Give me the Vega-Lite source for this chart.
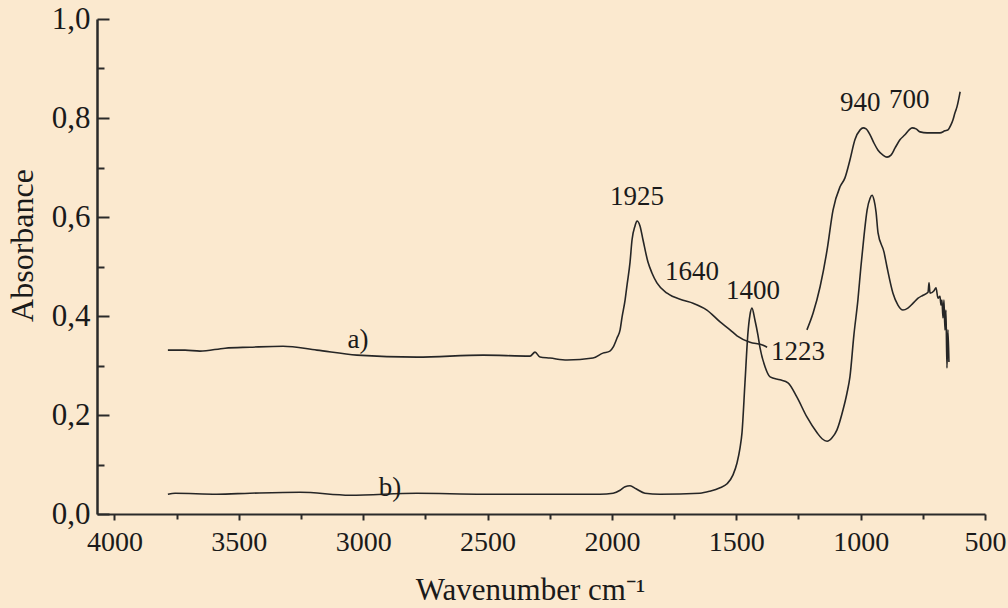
{
  "$schema": "https://vega.github.io/schema/vega-lite/v6.json",
  "width": 888,
  "height": 495,
  "autosize": "none",
  "padding": {"left": 97, "top": 19, "right": 23, "bottom": 94},
  "background": "#fbe9cf",
  "config": {"view": {"stroke": null}, "font": "Liberation Serif"},
  "datasets": {
    "spectra": [
      {"seg": "a1", "wn": 3785, "abs": 0.331},
      {"seg": "a1", "wn": 3716, "abs": 0.331},
      {"seg": "a1", "wn": 3656, "abs": 0.329},
      {"seg": "a1", "wn": 3555, "abs": 0.335},
      {"seg": "a1", "wn": 3455, "abs": 0.337},
      {"seg": "a1", "wn": 3322, "abs": 0.339},
      {"seg": "a1", "wn": 3186, "abs": 0.331},
      {"seg": "a1", "wn": 3025, "abs": 0.321},
      {"seg": "a1", "wn": 2784, "abs": 0.317},
      {"seg": "a1", "wn": 2518, "abs": 0.321},
      {"seg": "a1", "wn": 2329, "abs": 0.319},
      {"seg": "a1", "wn": 2309, "abs": 0.327},
      {"seg": "a1", "wn": 2289, "abs": 0.317},
      {"seg": "a1", "wn": 2249, "abs": 0.315},
      {"seg": "a1", "wn": 2180, "abs": 0.311},
      {"seg": "a1", "wn": 2076, "abs": 0.315},
      {"seg": "a1", "wn": 2036, "abs": 0.325},
      {"seg": "a1", "wn": 2008, "abs": 0.329},
      {"seg": "a1", "wn": 1995, "abs": 0.337},
      {"seg": "a1", "wn": 1979, "abs": 0.356},
      {"seg": "a1", "wn": 1967, "abs": 0.372},
      {"seg": "a1", "wn": 1959, "abs": 0.398},
      {"seg": "a1", "wn": 1947, "abs": 0.432},
      {"seg": "a1", "wn": 1939, "abs": 0.463},
      {"seg": "a1", "wn": 1927, "abs": 0.509},
      {"seg": "a1", "wn": 1919, "abs": 0.554},
      {"seg": "a1", "wn": 1907, "abs": 0.582},
      {"seg": "a1", "wn": 1899, "abs": 0.592},
      {"seg": "a1", "wn": 1887, "abs": 0.582},
      {"seg": "a1", "wn": 1875, "abs": 0.554},
      {"seg": "a1", "wn": 1855, "abs": 0.509},
      {"seg": "a1", "wn": 1839, "abs": 0.487},
      {"seg": "a1", "wn": 1819, "abs": 0.467},
      {"seg": "a1", "wn": 1778, "abs": 0.446},
      {"seg": "a1", "wn": 1714, "abs": 0.432},
      {"seg": "a1", "wn": 1674, "abs": 0.426},
      {"seg": "a1", "wn": 1618, "abs": 0.412},
      {"seg": "a1", "wn": 1565, "abs": 0.388},
      {"seg": "a1", "wn": 1525, "abs": 0.372},
      {"seg": "a1", "wn": 1497, "abs": 0.360},
      {"seg": "a1", "wn": 1445, "abs": 0.347},
      {"seg": "a1", "wn": 1392, "abs": 0.341},
      {"seg": "a1", "wn": 1376, "abs": 0.337},
      {"seg": "a2", "wn": 1216, "abs": 0.372},
      {"seg": "a2", "wn": 1191, "abs": 0.406},
      {"seg": "a2", "wn": 1163, "abs": 0.459},
      {"seg": "a2", "wn": 1135, "abs": 0.533},
      {"seg": "a2", "wn": 1111, "abs": 0.614},
      {"seg": "a2", "wn": 1083, "abs": 0.661},
      {"seg": "a2", "wn": 1063, "abs": 0.679},
      {"seg": "a2", "wn": 1043, "abs": 0.715},
      {"seg": "a2", "wn": 1023, "abs": 0.756},
      {"seg": "a2", "wn": 1002, "abs": 0.776},
      {"seg": "a2", "wn": 990, "abs": 0.780},
      {"seg": "a2", "wn": 978, "abs": 0.778},
      {"seg": "a2", "wn": 962, "abs": 0.766},
      {"seg": "a2", "wn": 946, "abs": 0.749},
      {"seg": "a2", "wn": 930, "abs": 0.735},
      {"seg": "a2", "wn": 910, "abs": 0.725},
      {"seg": "a2", "wn": 894, "abs": 0.721},
      {"seg": "a2", "wn": 878, "abs": 0.725},
      {"seg": "a2", "wn": 862, "abs": 0.739},
      {"seg": "a2", "wn": 842, "abs": 0.756},
      {"seg": "a2", "wn": 822, "abs": 0.766},
      {"seg": "a2", "wn": 805, "abs": 0.776},
      {"seg": "a2", "wn": 793, "abs": 0.780},
      {"seg": "a2", "wn": 777, "abs": 0.778},
      {"seg": "a2", "wn": 761, "abs": 0.772},
      {"seg": "a2", "wn": 733, "abs": 0.770},
      {"seg": "a2", "wn": 701, "abs": 0.770},
      {"seg": "a2", "wn": 681, "abs": 0.770},
      {"seg": "a2", "wn": 661, "abs": 0.774},
      {"seg": "a2", "wn": 649, "abs": 0.776},
      {"seg": "a2", "wn": 637, "abs": 0.786},
      {"seg": "a2", "wn": 629, "abs": 0.796},
      {"seg": "a2", "wn": 621, "abs": 0.810},
      {"seg": "a2", "wn": 613, "abs": 0.822},
      {"seg": "a2", "wn": 600, "abs": 0.853},
      {"seg": "b", "wn": 3785, "abs": 0.040},
      {"seg": "b", "wn": 3756, "abs": 0.042},
      {"seg": "b", "wn": 3588, "abs": 0.040},
      {"seg": "b", "wn": 3455, "abs": 0.042},
      {"seg": "b", "wn": 3254, "abs": 0.044},
      {"seg": "b", "wn": 3053, "abs": 0.038},
      {"seg": "b", "wn": 2784, "abs": 0.042},
      {"seg": "b", "wn": 2518, "abs": 0.040},
      {"seg": "b", "wn": 2249, "abs": 0.040},
      {"seg": "b", "wn": 2048, "abs": 0.040},
      {"seg": "b", "wn": 1995, "abs": 0.042},
      {"seg": "b", "wn": 1967, "abs": 0.048},
      {"seg": "b", "wn": 1947, "abs": 0.055},
      {"seg": "b", "wn": 1927, "abs": 0.057},
      {"seg": "b", "wn": 1903, "abs": 0.051},
      {"seg": "b", "wn": 1867, "abs": 0.042},
      {"seg": "b", "wn": 1807, "abs": 0.040},
      {"seg": "b", "wn": 1646, "abs": 0.042},
      {"seg": "b", "wn": 1606, "abs": 0.046},
      {"seg": "b", "wn": 1565, "abs": 0.053},
      {"seg": "b", "wn": 1537, "abs": 0.061},
      {"seg": "b", "wn": 1513, "abs": 0.079},
      {"seg": "b", "wn": 1497, "abs": 0.103},
      {"seg": "b", "wn": 1485, "abs": 0.133},
      {"seg": "b", "wn": 1477, "abs": 0.164},
      {"seg": "b", "wn": 1465, "abs": 0.265},
      {"seg": "b", "wn": 1453, "abs": 0.366},
      {"seg": "b", "wn": 1445, "abs": 0.402},
      {"seg": "b", "wn": 1437, "abs": 0.416},
      {"seg": "b", "wn": 1425, "abs": 0.392},
      {"seg": "b", "wn": 1413, "abs": 0.362},
      {"seg": "b", "wn": 1405, "abs": 0.337},
      {"seg": "b", "wn": 1384, "abs": 0.297},
      {"seg": "b", "wn": 1364, "abs": 0.277},
      {"seg": "b", "wn": 1324, "abs": 0.271},
      {"seg": "b", "wn": 1292, "abs": 0.265},
      {"seg": "b", "wn": 1256, "abs": 0.236},
      {"seg": "b", "wn": 1216, "abs": 0.196},
      {"seg": "b", "wn": 1175, "abs": 0.164},
      {"seg": "b", "wn": 1155, "abs": 0.152},
      {"seg": "b", "wn": 1135, "abs": 0.147},
      {"seg": "b", "wn": 1115, "abs": 0.154},
      {"seg": "b", "wn": 1095, "abs": 0.170},
      {"seg": "b", "wn": 1071, "abs": 0.210},
      {"seg": "b", "wn": 1055, "abs": 0.244},
      {"seg": "b", "wn": 1043, "abs": 0.277},
      {"seg": "b", "wn": 1027, "abs": 0.362},
      {"seg": "b", "wn": 1011, "abs": 0.432},
      {"seg": "b", "wn": 999, "abs": 0.499},
      {"seg": "b", "wn": 986, "abs": 0.564},
      {"seg": "b", "wn": 974, "abs": 0.614},
      {"seg": "b", "wn": 962, "abs": 0.638},
      {"seg": "b", "wn": 954, "abs": 0.644},
      {"seg": "b", "wn": 946, "abs": 0.634},
      {"seg": "b", "wn": 938, "abs": 0.610},
      {"seg": "b", "wn": 930, "abs": 0.568},
      {"seg": "b", "wn": 906, "abs": 0.529},
      {"seg": "b", "wn": 894, "abs": 0.499},
      {"seg": "b", "wn": 870, "abs": 0.446},
      {"seg": "b", "wn": 850, "abs": 0.422},
      {"seg": "b", "wn": 830, "abs": 0.412},
      {"seg": "b", "wn": 810, "abs": 0.416},
      {"seg": "b", "wn": 789, "abs": 0.426},
      {"seg": "b", "wn": 769, "abs": 0.436},
      {"seg": "b", "wn": 749, "abs": 0.442},
      {"seg": "b", "wn": 729, "abs": 0.448},
      {"seg": "b", "wn": 725, "abs": 0.467},
      {"seg": "b", "wn": 721, "abs": 0.446},
      {"seg": "b", "wn": 705, "abs": 0.451},
      {"seg": "b", "wn": 697, "abs": 0.457},
      {"seg": "b", "wn": 689, "abs": 0.436},
      {"seg": "b", "wn": 681, "abs": 0.440},
      {"seg": "b", "wn": 677, "abs": 0.422},
      {"seg": "b", "wn": 673, "abs": 0.432},
      {"seg": "b", "wn": 669, "abs": 0.396},
      {"seg": "b", "wn": 665, "abs": 0.432},
      {"seg": "b", "wn": 661, "abs": 0.372},
      {"seg": "b", "wn": 657, "abs": 0.412},
      {"seg": "b", "wn": 653, "abs": 0.295},
      {"seg": "b", "wn": 649, "abs": 0.372},
      {"seg": "b", "wn": 645, "abs": 0.307}
    ],
    "labels": [
      {"text": "1925", "wn": 1899, "abs": 0.640},
      {"text": "1640", "wn": 1678, "abs": 0.489},
      {"text": "1400", "wn": 1433, "abs": 0.451},
      {"text": "1223", "wn": 1252, "abs": 0.327},
      {"text": "940", "wn": 1002, "abs": 0.830},
      {"text": "700", "wn": 805, "abs": 0.836},
      {"text": "a)", "wn": 3021, "abs": 0.352},
      {"text": "b)", "wn": 2892, "abs": 0.053}
    ]
  },
  "layer": [
    {
      "data": {"name": "spectra"},
      "mark": {"type": "line", "color": "#262626", "strokeWidth": 1.6, "interpolate": "monotone", "clip": false},
      "encoding": {
        "x": {
          "field": "wn", "type": "quantitative",
          "scale": {"domain": [500, 4070], "reverse": true, "nice": false, "zero": false},
          "axis": {
            "orient": "bottom",
            "values": [4000, 3500, 3000, 2500, 2000, 1500, 1000, 500],
            "format": "d",
            "grid": false,
            "domainColor": "#2a2a2a", "domainWidth": 2,
            "tickColor": "#2a2a2a", "tickWidth": 2, "tickSize": 6,
            "labelFont": "Liberation Serif", "labelFontSize": 28, "labelColor": "#1a1a1a",
            "labelPadding": 8, "labelFlush": false, "labelOverlap": false,
            "title": "Wavenumber cm⁻¹",
            "titleFont": "Liberation Serif", "titleFontSize": 31, "titleFontWeight": "normal", "titleColor": "#1a1a1a",
            "titleX": 433, "titleY": 76, "titleBaseline": "middle", "titleAlign": "center"
          }
        },
        "y": {
          "field": "abs", "type": "quantitative",
          "scale": {"domain": [0, 1], "nice": false},
          "axis": {
            "orient": "left",
            "values": [0, 0.2, 0.4, 0.6, 0.8, 1.0],
            "labelExpr": "replace(format(datum.value, '.1f'), '.', ',')",
            "grid": false,
            "domainColor": "#2a2a2a", "domainWidth": 2.5,
            "tickColor": "#2a2a2a", "tickWidth": 2, "tickSize": -12,
            "labelFont": "Liberation Serif", "labelFontSize": 31, "labelColor": "#1a1a1a",
            "labelPadding": 19, "labelFlush": false, "labelOverlap": false,
            "title": "Absorbance",
            "titleFont": "Liberation Serif", "titleFontSize": 32, "titleFontWeight": "normal", "titleColor": "#1a1a1a",
            "titleX": -75, "titleY": 226, "titleAngle": 270, "titleBaseline": "middle", "titleAlign": "center"
          }
        },
        "detail": {"field": "seg", "type": "nominal"}
      }
    },
    {
      "data": {"name": "labels"},
      "mark": {"type": "text", "font": "Liberation Serif", "fontSize": 27, "color": "#1a1a1a", "align": "center", "baseline": "middle"},
      "encoding": {
        "x": {
          "field": "wn", "type": "quantitative",
          "scale": {"domain": [500, 4070], "reverse": true, "nice": false, "zero": false},
          "axis": {
            "orient": "bottom",
            "values": [3750, 3250, 2750, 2250, 1750, 1250, 750],
            "labels": false, "domain": false, "grid": false, "title": null,
            "tickColor": "#2a2a2a", "tickWidth": 2, "tickSize": 5
          }
        },
        "y": {
          "field": "abs", "type": "quantitative",
          "scale": {"domain": [0, 1], "nice": false},
          "axis": {
            "orient": "left",
            "values": [0.1, 0.3, 0.5, 0.7, 0.9],
            "labels": false, "domain": false, "grid": false, "title": null,
            "tickColor": "#2a2a2a", "tickWidth": 2, "tickSize": -7
          }
        },
        "text": {"field": "text", "type": "nominal"}
      }
    }
  ],
  "resolve": {"axis": {"x": "independent", "y": "independent"}}
}
